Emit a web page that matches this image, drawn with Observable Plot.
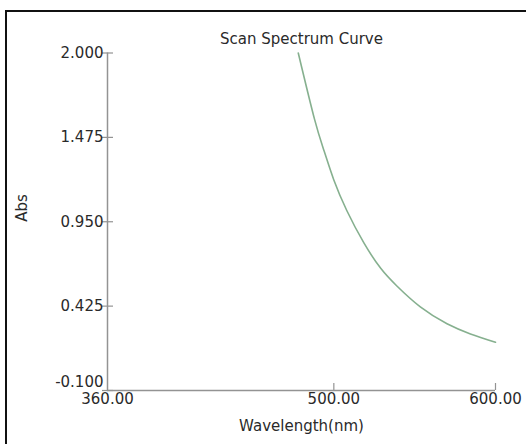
<!DOCTYPE html>
<html><head><meta charset="utf-8">
<script src="https://cdn.jsdelivr.net/npm/d3@7"></script>
<script src="https://cdn.jsdelivr.net/npm/@observablehq/plot@0.6"></script>
<style>
html,body{margin:0;padding:0;background:#fff;overflow:hidden;}
#wrap{position:relative;width:526px;height:444px;}
#frame{position:absolute;left:5px;top:10px;width:600px;height:600px;border-left:2px solid #111;border-top:2px solid #111;}
#chart{position:absolute;left:0;top:0;}
</style></head><body><div id="wrap"><div id="frame"></div><div id="chart"></div></div>
<script>
const wavelengths = [478, 488, 494, 500, 508, 518.5, 529, 539, 553.5, 570, 584.5, 600];
const absValues = [2.0, 1.59, 1.39, 1.21, 1.02, 0.82, 0.66, 0.55, 0.42, 0.315, 0.252, 0.2];
const xTicks = [360, 500, 600];
const yTicks = [2.0, 1.475, 0.95, 0.425, -0.1];
const titleText = "Scan Spectrum Curve";
const xLabel = "Wavelength(nm)";
const yLabel = "Abs";

const data = wavelengths.map((w, i) => ({w, a: absValues[i]}));
const W = 526, H = 444, mL = 107, mR = 31, mT = 52.5, mB = 54;
const plotW = W - mL - mR, plotH = H - mT - mB;
const axisColor = "#939393";

const chart = Plot.plot({
  width: W, height: H,
  marginLeft: mL, marginRight: mR, marginTop: mT, marginBottom: mB,
  x: {domain: [360, 600], label: null},
  y: {domain: [-0.1, 2.0], label: null},
  style: {fontFamily: "DejaVu Sans", fontSize: "15px", color: "#2a2a2a", background: "transparent", overflow: "visible"},
  marks: [
    Plot.ruleX([360], {stroke: axisColor, strokeWidth: 1.5}),
    Plot.ruleY([-0.1], {stroke: axisColor, strokeWidth: 1.5}),
    Plot.tickY(yTicks, {y: d => d, stroke: axisColor, strokeWidth: 1.2, insetLeft: -5, insetRight: plotW - 6}),
    Plot.tickX(xTicks.slice(1), {x: d => d, stroke: axisColor, strokeWidth: 1.2, insetTop: plotH - 7}),
    Plot.axisY(yTicks.slice(0, 4), {label: null, tickSize: 0, tickPadding: 4, tickFormat: d => d.toFixed(3)}),
    Plot.axisY([-0.1], {label: null, tickSize: 0, tickPadding: 4, dy: -8, tickFormat: d => d.toFixed(3)}),
    Plot.axisX(xTicks, {label: null, tickSize: 0, tickPadding: 3, tickFormat: d => d.toFixed(2)}),
    Plot.line(data, {x: "w", y: "a", stroke: "#86b08f", strokeWidth: 1.6, curve: "natural"}),
    Plot.text([titleText], {frameAnchor: "top", text: d => d, dy: -20}),
    Plot.text([xLabel], {frameAnchor: "bottom", text: d => d, dy: 40}),
    Plot.text([yLabel], {frameAnchor: "left", text: d => d, rotate: -90, dx: -85})
  ]
});
document.getElementById("chart").appendChild(chart);
</script></body></html>
